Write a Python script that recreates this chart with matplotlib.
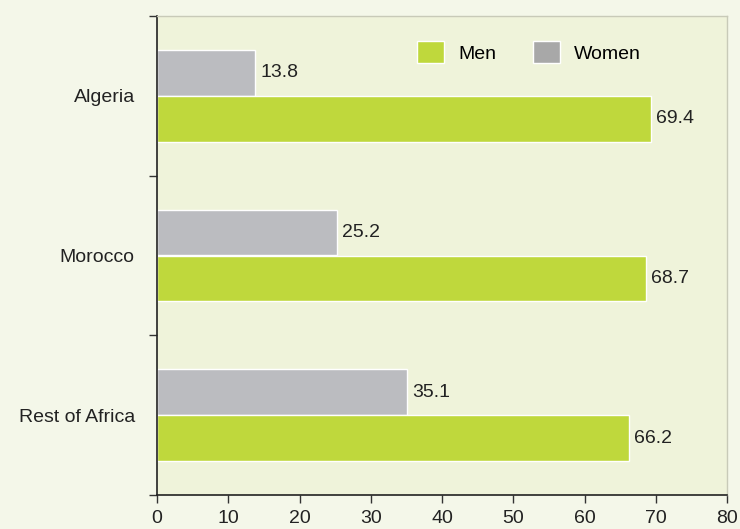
import numpy as np
import matplotlib.pyplot as plt
from matplotlib.patches import Patch

plt.rcParams['font.family'] = ['Liberation Sans', 'DejaVu Sans']

lande = ["Algeria", "Morocco", "Rest of Africa"]
maend = [69.4, 68.7, 66.2]
kvinder = [13.8, 25.2, 35.1]

farve_maend = "#bfd83c"
farve_kvinder = "#bbbcc0"

fig = plt.figure(figsize=(7.4, 5.29), dpi=100, facecolor="#f4f7e9")
ax = fig.add_axes([157/740, 1 - 495/529, 570/740, 479/529])
ax.set_facecolor("#eff3da")

y = np.arange(len(lande)) + 0.5
h = 0.2875

ax.barh(y - h/2, kvinder, height=h, color=farve_kvinder, edgecolor="white", linewidth=1)
ax.barh(y + h/2, maend, height=h, color=farve_maend, edgecolor="white", linewidth=1)

for i in range(len(lande)):
    ax.text(kvinder[i] + 0.7, y[i] - h/2, "{:.1f}".format(kvinder[i]),
            va="center", ha="left", fontsize=14, color="#222222")
    ax.text(maend[i] + 0.7, y[i] + h/2, "{:.1f}".format(maend[i]),
            va="center", ha="left", fontsize=14, color="#222222")

ax.set_xlim(0, 80)
ax.set_ylim(3, 0)
ax.set_xticks(range(0, 81, 10))
ax.set_yticks([0, 1, 2, 3])
ax.set_yticklabels([])
ax.set_yticks(y, minor=True)
ax.set_yticklabels(lande, minor=True, fontsize=14, color="#222222")
ax.tick_params(axis="y", which="minor", length=0, pad=16)
ax.tick_params(axis="y", which="major", length=6, width=1, color="#333333")
ax.tick_params(axis="x", length=6, width=1, color="#333333", labelsize=14,
               labelcolor="#222222", pad=5)

for s in ["left", "bottom"]:
    ax.spines[s].set_color("#222222")
    ax.spines[s].set_linewidth(1.2)
for s in ["top", "right"]:
    ax.spines[s].set_color("#c8cab8")
    ax.spines[s].set_linewidth(1)

handles = [Patch(facecolor=farve_maend, edgecolor="white", label="Men"),
           Patch(facecolor="#a8a8a8", edgecolor="white", label="Women")]
ax.legend(handles=handles, loc="upper left", bbox_to_anchor=(0.456, 0.948), ncol=2,
          frameon=False, fontsize=14, handlelength=1.4, handleheight=1.4,
          columnspacing=1.9, handletextpad=0.72, borderpad=0, borderaxespad=0)

plt.savefig("out.png", dpi=100, facecolor=fig.get_facecolor())
